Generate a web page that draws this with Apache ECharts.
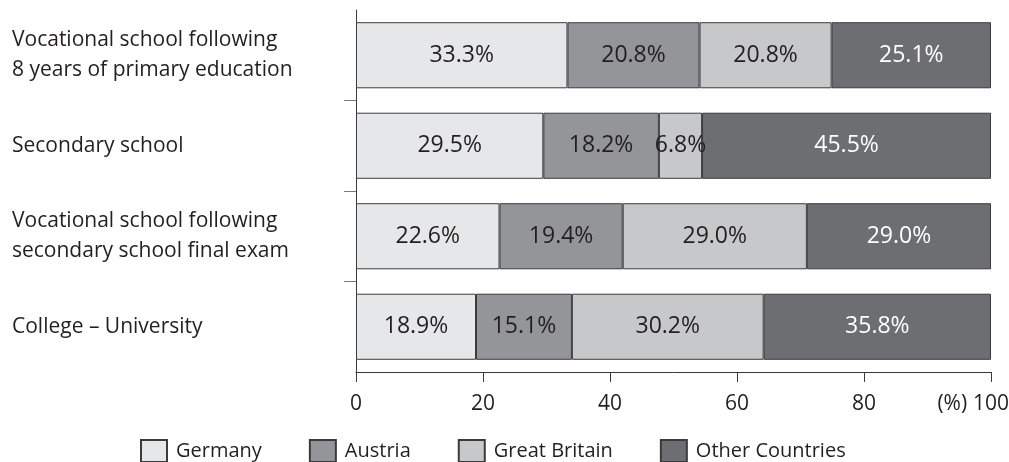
<!DOCTYPE html>
<html>
<head>
<meta charset="utf-8">
<script src="https://cdn.jsdelivr.net/npm/echarts@6/dist/echarts.min.js"></script>
<style>
  html, body { margin: 0; padding: 0; background: #ffffff; }
  #chart { width: 1009px; height: 462px; }
</style>
</head>
<body>
<div id="chart"></div>
<script>
// School types (top to bottom)
const categories = [
  'Vocational school following\n8 years of primary education',
  'Secondary school',
  'Vocational school following\nsecondary school final exam',
  'College – University'
];

// Share of each country group, in percent
const germany        = [33.3, 29.5, 22.6, 18.9];
const austria        = [20.8, 18.2, 19.4, 15.1];
const greatBritain   = [20.8, 6.8, 29.0, 30.2];
const otherCountries = [25.1, 45.5, 29.0, 35.8];

const seriesNames = ['Germany', 'Austria', 'Great Britain', 'Other Countries'];
const xTicks = [0, 20, 40, 60, 80, 100];

const FONT = '"Open Sans", "Noto Sans", sans-serif';
const TEXT = '#231f20';

const fills = ['#e6e7e8', '#939598', '#c7c8ca', '#6d6e71'];
const labelColors = [TEXT, TEXT, TEXT, '#ffffff'];
const values = [germany, austria, greatBritain, otherCountries];

const chart = echarts.init(document.getElementById('chart'), null, { renderer: 'canvas' });

const series = seriesNames.map((name, i) => ({
  name: name,
  type: 'bar',
  stack: 'total',
  yAxisIndex: 0,
  barWidth: '73%',
  data: values[i],
  itemStyle: { color: fills[i], borderColor: '#3b3b3d', borderWidth: 1 },
  label: {
    show: true,
    position: 'inside',
    color: labelColors[i],
    fontFamily: FONT,
    fontSize: 23,
    formatter: p => p.value.toFixed(1) + '%'
  },
  emphasis: { disabled: true },
  animation: false
}));

chart.setOption({
  backgroundColor: '#ffffff',
  animation: false,
  grid: { left: 356, right: 18, top: 10, bottom: 90, containLabel: false, outerBoundsMode: 'none' },
  legend: {
    data: seriesNames,
    left: 135,
    top: 434,
    itemWidth: 26,
    itemHeight: 22,
    itemGap: 47,
    icon: 'rect',
    textStyle: { color: TEXT, fontFamily: FONT, fontSize: 20, padding: [0, 0, 0, 4] },
    selectedMode: false
  },
  xAxis: {
    type: 'value',
    min: xTicks[0],
    max: xTicks[xTicks.length - 1],
    interval: xTicks[1] - xTicks[0],
    axisLine: { show: true, lineStyle: { color: '#3b3b3d', width: 1 } },
    axisTick: { show: true, length: 10, lineStyle: { color: '#3b3b3d' } },
    splitLine: { show: false },
    axisLabel: {
      color: TEXT,
      fontFamily: FONT,
      fontSize: 21,
      margin: 22,
      formatter: v => v === 100 ? '{u|(%) }{n|100}{s|}' : String(v),
      rich: {
        u: { width: 36, fontFamily: FONT, fontSize: 21, color: TEXT },
        n: { fontFamily: FONT, fontSize: 21, color: TEXT },
        s: { width: 36 }
      }
    }
  },
  yAxis: [
    {
      type: 'category',
      data: categories,
      inverse: true,
      axisLine: { show: true, lineStyle: { color: '#3b3b3d', width: 1 } },
      axisTick: { show: false },
      axisLabel: {
        color: TEXT,
        fontFamily: FONT,
        fontSize: 21,
        lineHeight: 30,
        align: 'left',
        margin: 344
      }
    },
    {
      // band separators on the left edge
      type: 'value',
      position: 'left',
      min: 0,
      max: categories.length,
      interval: 1,
      axisLine: { show: false },
      axisLabel: { show: false },
      splitLine: { show: false },
      axisTick: {
        show: true,
        length: 12,
        customValues: [1, 2, 3],
        lineStyle: { color: '#7a7a7c', width: 1 }
      }
    }
  ],
  series: series
});
</script>
</body>
</html>
